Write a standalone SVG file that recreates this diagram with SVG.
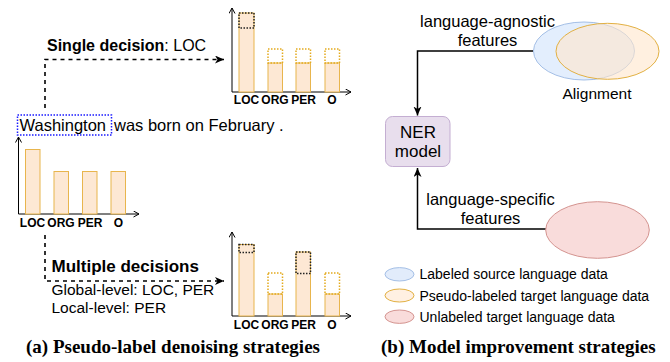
<svg xmlns="http://www.w3.org/2000/svg" width="670" height="362" viewBox="0 0 670 362">
<defs>
<marker id="axis" markerUnits="userSpaceOnUse" markerWidth="10" markerHeight="10" refX="6" refY="3.5" orient="auto">
<path d="M0.5,0.5 L6,3.5 L0.5,6.5" fill="none" stroke="#000" stroke-width="1"/>
</marker>
<marker id="arr" markerUnits="userSpaceOnUse" markerWidth="12" markerHeight="10" refX="9" refY="4" orient="auto">
<path d="M0,0 L9,4 L0,8 L2.5,4 Z" fill="#000" stroke="none"/>
</marker>
<style>
.ax{stroke:#000;stroke-width:1;fill:none}
.bar{fill:#fde8d4;stroke:#e8b54d;stroke-width:1}
.dy{fill:none;stroke:#e3aa1e;stroke-width:1.5;stroke-dasharray:1.5 1.5}
.dk{fill:none;stroke:#222;stroke-width:1.5;stroke-dasharray:1.5 1.5}
.lbl{font-family:"Liberation Sans",Arial,sans-serif;font-size:12px;font-weight:bold;text-anchor:middle;fill:#000}
.t{font-family:"Liberation Sans",Arial,sans-serif;fill:#000}
.dash{stroke:#000;stroke-width:1.6;stroke-dasharray:4 4;fill:none}
.conn{stroke:#000;stroke-width:1.5;fill:none}
.title{font-family:"Liberation Serif","Times New Roman",serif;font-weight:bold;font-size:19px;fill:#000}
</style>
</defs>

<g id="connectors">
<path class="dash" d="M45,108 L45,59.5 L224,59.5" marker-end="url(#arr)"/>
<path class="dash" d="M45,235 L45,281 L224,281" marker-end="url(#arr)"/>
<path class="conn" d="M533,51 L417.5,51 L417.5,115.5" marker-end="url(#arr)"/>
<path class="conn" d="M546,229 L417.5,229 L417.5,168" marker-end="url(#arr)"/>
</g>

<g id="single-decision-label">
<text class="t" x="47" y="51" font-size="16"><tspan font-weight="bold">Single decision</tspan>: LOC</text>
</g>

<g id="chart-top">
<path class="ax" d="M232,92 L232,8" marker-end="url(#axis)"/>
<path class="ax" d="M232,92 L351,92" marker-end="url(#axis)"/>
<rect class="bar" x="239" y="13" width="15" height="79"/>
<rect class="dk" x="239" y="13" width="15" height="15"/>
<rect class="bar" x="268" y="63" width="14.5" height="29"/>
<rect class="dy" x="268" y="49" width="14.5" height="14"/>
<rect class="bar" x="296" y="63" width="14.5" height="29"/>
<rect class="dy" x="296" y="49" width="14.5" height="14"/>
<rect class="bar" x="325" y="63" width="14.5" height="29"/>
<rect class="dy" x="325" y="49" width="14.5" height="14"/>
<text class="lbl" x="246.5" y="104">LOC</text>
<text class="lbl" x="275" y="104">ORG</text>
<text class="lbl" x="303.5" y="104">PER</text>
<text class="lbl" x="332" y="104">O</text>
</g>

<g id="sentence">
<rect x="17.5" y="115" width="94" height="20" fill="none" stroke="#1a1aff" stroke-width="1.5" stroke-dasharray="1.5 1.5"/>
<text class="t" x="19.5" y="131" font-size="16.5">Washington</text>
<text class="t" x="114" y="131" font-size="16.5">was born on February .</text>
</g>

<g id="chart-left">
<path class="ax" d="M18.5,214 L18.5,137" marker-end="url(#axis)"/>
<path class="ax" d="M18.5,214 L139,214" marker-end="url(#axis)"/>
<rect class="bar" x="25.5" y="149.5" width="14.5" height="64.5"/>
<rect class="bar" x="54" y="171.5" width="14.5" height="42.5"/>
<rect class="bar" x="82.5" y="171.5" width="14.5" height="42.5"/>
<rect class="bar" x="111" y="171.5" width="14.5" height="42.5"/>
<text class="lbl" x="32.5" y="226.5">LOC</text>
<text class="lbl" x="61" y="226.5">ORG</text>
<text class="lbl" x="90" y="226.5">PER</text>
<text class="lbl" x="118.5" y="226.5">O</text>
</g>

<g id="multiple-decisions-label">
<text class="t" x="51.5" y="272" font-size="17" font-weight="bold">Multiple decisions</text>
<text class="t" x="51.5" y="295" font-size="15.5">Global-level: LOC, PER</text>
<text class="t" x="51.5" y="313" font-size="15.5">Local-level: PER</text>
</g>

<g id="chart-bottom">
<path class="ax" d="M232,316 L232,232" marker-end="url(#axis)"/>
<path class="ax" d="M232,316 L351,316" marker-end="url(#axis)"/>
<rect class="bar" x="239" y="244.5" width="15" height="71.5"/>
<rect class="dk" x="239" y="244.5" width="15" height="8"/>
<rect class="bar" x="268" y="294" width="14.5" height="22"/>
<rect class="dy" x="268" y="273" width="14.5" height="21"/>
<rect class="bar" x="296" y="252" width="14.5" height="64"/>
<rect class="dk" x="296" y="252" width="14.5" height="21.5"/>
<rect class="bar" x="325" y="294" width="14.5" height="22"/>
<rect class="dy" x="325" y="273" width="14.5" height="21"/>
<text class="lbl" x="246.5" y="329">LOC</text>
<text class="lbl" x="275" y="329">ORG</text>
<text class="lbl" x="303.5" y="329">PER</text>
<text class="lbl" x="332" y="329">O</text>
</g>

<g id="title-a">
<text class="title" x="26" y="353">(a) Pseudo-label denoising strategies</text>
</g>

<g id="agnostic-label">
<text class="t" x="487.5" y="27" font-size="16.5" text-anchor="middle">language-agnostic</text>
<text class="t" x="487.5" y="46" font-size="16.5" text-anchor="middle">features</text>
</g>

<g id="alignment">
<ellipse cx="584" cy="51" rx="50.5" ry="29" fill="#dae8fc" fill-opacity="0.75" stroke="#a4bfe6" stroke-width="1"/>
<ellipse cx="607.5" cy="51.3" rx="51.5" ry="28" fill="#ffe6cc" fill-opacity="0.6" stroke="#e2b042" stroke-width="1"/>
<text class="t" x="597" y="98.5" font-size="15.5" text-anchor="middle">Alignment</text>
</g>

<g id="ner-model">
<rect x="385.5" y="116.5" width="64.5" height="50" rx="7" fill="#e8deed" stroke="#c4aed2" stroke-width="1"/>
<text class="t" x="418" y="137.5" font-size="17" text-anchor="middle">NER</text>
<text class="t" x="418" y="157" font-size="17" text-anchor="middle">model</text>
</g>

<g id="specific-label">
<text class="t" x="490.5" y="205" font-size="16.5" text-anchor="middle">language-specific</text>
<text class="t" x="490.5" y="223.5" font-size="16.5" text-anchor="middle">features</text>
</g>

<g id="unlabeled">
<ellipse cx="597.5" cy="230" rx="51.8" ry="28.3" fill="#f9dcdb" stroke="#d49490" stroke-width="1"/>
</g>

<g id="legend">
<ellipse cx="399.5" cy="274.3" rx="14.5" ry="6.7" fill="#e2ecfb" stroke="#a4bfe6" stroke-width="1"/>
<text class="t" x="419.5" y="279" font-size="14">Labeled source language data</text>
<ellipse cx="399.5" cy="295.5" rx="14.5" ry="6.5" fill="#fff0e2" stroke="#e2b042" stroke-width="1"/>
<text class="t" x="419.5" y="300.5" font-size="14">Pseudo-labeled target language data</text>
<ellipse cx="399.5" cy="316.7" rx="14.5" ry="6.7" fill="#f9dcdb" stroke="#d49490" stroke-width="1"/>
<text class="t" x="419.5" y="321.5" font-size="14">Unlabeled target language data</text>
</g>

<g id="title-b">
<text class="title" x="381" y="353">(b) Model improvement strategies</text>
</g>
</svg>
